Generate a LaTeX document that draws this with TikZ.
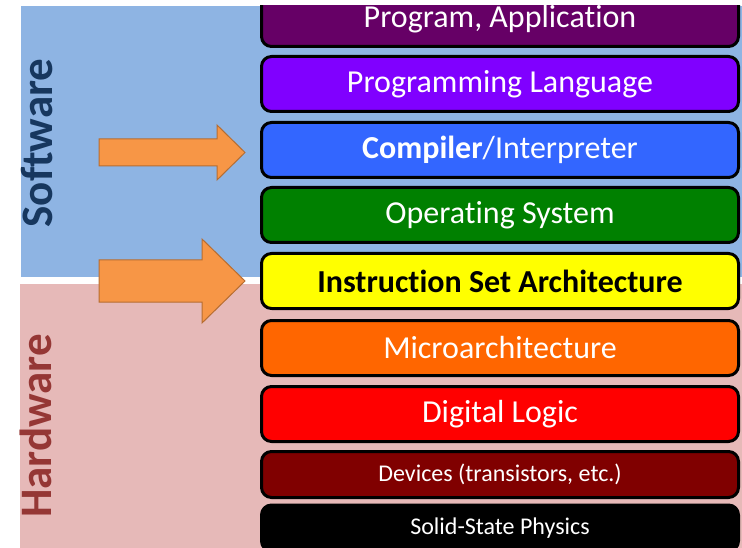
\documentclass[tikz,border=0pt]{standalone}
\usepackage{fontspec}
\setmainfont{Carlito}[Ligatures={NoCommon,NoContextual,NoRequired},Contextuals=NoAlternate]

\definecolor{swblue}{HTML}{8EB4E3}
\definecolor{hwpink}{HTML}{E6B9B8}
\definecolor{swtext}{HTML}{17375E}
\definecolor{hwtext}{HTML}{953735}
\definecolor{arrowfill}{HTML}{F79646}
\definecolor{arrowline}{HTML}{B66D31}
\definecolor{appcol}{HTML}{660066}
\definecolor{langcol}{HTML}{8000FF}
\definecolor{compcol}{HTML}{3366FF}
\definecolor{oscol}{HTML}{008000}
\definecolor{isacol}{HTML}{FFFF00}
\definecolor{uarchcol}{HTML}{FF6600}
\definecolor{logiccol}{HTML}{FF0000}
\definecolor{devcol}{HTML}{800000}

\tikzset{
  layer/.style={draw=black, line width=3pt, rounded corners=10pt,
    minimum width=477pt, minimum height=55pt, inner sep=0pt,
    text=white, font=\fontsize{32}{36}\selectfont},
  small layer/.style={layer, minimum height=46pt, font=\fontsize{24}{28}\selectfont},
  block arrow/.style={fill=arrowfill, draw=arrowline, line width=1pt, line join=miter},
  side label/.style={rotate=90, font=\bfseries\fontsize{45}{50}\selectfont},
}

\begin{document}
\begin{tikzpicture}[x=1pt, y=-1pt, line join=round, line cap=round]
  \useasboundingbox (0,0) rectangle (742,548);
  \begin{scope}
    \clip (0,6) rectangle (742,548);
    % software / hardware backgrounds
    \fill[swblue] (21,6) rectangle (742,277);
    \fill[hwpink] (20,284) rectangle (742,548);
    % the layers, top to bottom
    \foreach \y/\c/\t [count=\i] in {19/appcol/{Program, Application},
        84/langcol/{Programming Language},
        150/compcol/{\textbf{Compiler}/Interpreter},
        215/oscol/{Operating System},
        281/isacol/{\textcolor{black}{\bfseries Instruction Set Architecture}},
        348/uarchcol/{Microarchitecture},
        414/logiccol/{Digital Logic}}
      \node[layer, fill=\c] (l\i) at (500,\y) {\t};
    \node[small layer, fill=devcol] (l8) at (500,474.5) {Devices (transistors, etc.)};
    \node[small layer, fill=black] (l9) at (500,528) {Solid-State Physics};
  \end{scope}

  % arrows pointing at the compiler and the ISA
  \coordinate (tip1) at (245,152.5);
  \coordinate (tip2) at (245,281);
  \draw[block arrow] (tip1) -- ++(-28,-27.5) -- ++(0,14) -- ++(-118,0) -- ++(0,27)
    -- ++(118,0) -- ++(0,14) -- cycle;
  \draw[block arrow] (tip2) -- ++(-43,-42) -- ++(0,21) -- ++(-103,0) -- ++(0,42)
    -- ++(103,0) -- ++(0,21) -- cycle;

  \node[side label, text=swtext] (sw) at (37,143) {Software};
  \node[side label, text=hwtext] (hw) at (36,426) {Hardware};
\end{tikzpicture}
\end{document}
